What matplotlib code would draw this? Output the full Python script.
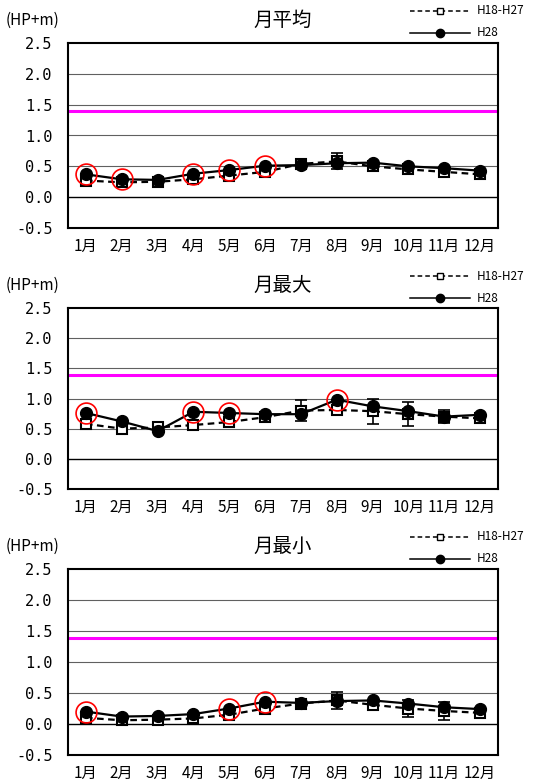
import numpy as np
import matplotlib
matplotlib.use("Agg")
import matplotlib.pyplot as plt
from matplotlib.lines import Line2D

plt.rcParams["font.family"] = ["Noto Sans CJK JP", "DejaVu Sans"]

months = ["1月", "2月", "3月", "4月", "5月", "6月", "7月", "8月", "9月", "10月", "11月", "12月"]
titles = ["月平均", "月最大", "月最小"]
yticks = [-0.5, 0.0, 0.5, 1.0, 1.5, 2.0, 2.5]
ref_level = 1.39
legend_labels = ["H18-H27", "H28"]

# H28 values
h28_mean = [0.37, 0.29, 0.28, 0.38, 0.44, 0.51, 0.52, 0.55, 0.56, 0.50, 0.47, 0.43]
h28_max = [0.76, 0.62, 0.46, 0.78, 0.76, 0.74, 0.74, 0.98, 0.87, 0.79, 0.70, 0.73]
h28_min = [0.20, 0.12, 0.13, 0.16, 0.25, 0.36, 0.34, 0.37, 0.38, 0.33, 0.27, 0.24]

# H18-H27 averages and spread
avg_mean = [0.27, 0.24, 0.25, 0.29, 0.35, 0.41, 0.54, 0.58, 0.50, 0.45, 0.41, 0.37]
avg_max = [0.58, 0.50, 0.52, 0.56, 0.61, 0.69, 0.80, 0.81, 0.79, 0.74, 0.70, 0.67]
avg_min = [0.10, 0.06, 0.07, 0.09, 0.15, 0.25, 0.33, 0.38, 0.31, 0.25, 0.21, 0.18]

err_mean = [0.03, 0.03, 0.03, 0.03, 0.03, 0.03, 0.04, 0.13, 0.06, 0.07, 0.07, 0.04]
err_max = [0.04, 0.04, 0.04, 0.04, 0.04, 0.04, 0.17, 0.06, 0.21, 0.20, 0.11, 0.05]
err_min = [0.03, 0.03, 0.03, 0.03, 0.03, 0.03, 0.04, 0.14, 0.07, 0.13, 0.14, 0.05]

# months circled in red (index)
circled_mean = [0, 1, 3, 4, 5]
circled_max = [0, 3, 4, 7]
circled_min = [0, 4, 5]

panels = [
    (titles[0], h28_mean, avg_mean, err_mean, circled_mean),
    (titles[1], h28_max, avg_max, err_max, circled_max),
    (titles[2], h28_min, avg_min, err_min, circled_min),
]

W, H = 552, 783
fig = plt.figure(figsize=(W / 100, H / 100), dpi=100)

# axes boxes in pixels: (top, bottom)
boxes = [(43, 228), (308, 489), (569, 755)]
left_px, right_px = 68, 498


def fx(px):
    return px / W


def fy(py):
    return 1 - py / H


x = np.arange(len(months))

for (title, h28, avg, err, circ), (top, bot) in zip(panels, boxes):
    ax = fig.add_axes([fx(left_px), fy(bot), (right_px - left_px) / W, (bot - top) / H])
    ax.set_xlim(-0.5, 11.5)
    ax.set_ylim(-0.5, 2.5)

    for yv in [0.5, 1.0, 1.5, 2.0]:
        ax.axhline(yv, color="#606060", lw=0.8, zorder=1)
    ax.axhline(0.0, color="black", lw=1.0, zorder=1)
    ax.axhline(ref_level, color="#FF00FF", lw=2.2, zorder=2)

    ax.errorbar(x, avg, yerr=err, fmt="none", ecolor="black", elinewidth=1.2,
                capsize=4, capthick=1.2, zorder=3)
    ax.plot(x, avg, color="black", ls=(0, (3, 2)), lw=1.6, marker="s", ms=7,
            mfc="white", mec="black", mew=1.5, zorder=4)
    ax.plot(x, h28, color="black", ls="-", lw=1.6, marker="o", ms=8.5,
            mfc="black", mec="black", zorder=5)
    ax.plot(x[circ], np.array(h28)[circ], ls="none", marker="o", ms=15,
            mfc="none", mec="#FF0000", mew=1.2, zorder=6)

    ax.set_xticks(x)
    ax.set_xticklabels(months, fontsize=11)
    ax.set_yticks(yticks)
    ax.set_yticklabels([f"{v:.1f}" for v in yticks], fontsize=11,
                       family=["DejaVu Sans Mono"])
    ax.tick_params(axis="x", length=0, pad=7)
    ax.tick_params(axis="y", length=0, pad=11)
    for s in ax.spines.values():
        s.set_linewidth(1.5)
        s.set_color("black")

    # title and unit
    fig.text(fx((left_px + right_px) / 2), fy(top - 23), title, fontsize=14,
             ha="center", va="center")
    fig.text(fx(6), fy(top - 23), "(HP+m)", fontsize=11, va="center", ha="left")

    # legend drawn by hand in the top right corner
    row1, row2 = top - 32, top - 10
    fig.add_artist(Line2D([fx(410), fx(470)], [fy(row1), fy(row1)], transform=fig.transFigure,
                          color="black", ls=(0, (3, 2)), lw=1.1))
    fig.add_artist(Line2D([fx(440)], [fy(row1)], transform=fig.transFigure, ls="none",
                          marker="s", ms=5, mfc="white", mec="black", mew=1.0))
    fig.add_artist(Line2D([fx(410), fx(470)], [fy(row2), fy(row2)], transform=fig.transFigure,
                          color="black", ls="-", lw=1.1))
    fig.add_artist(Line2D([fx(440)], [fy(row2)], transform=fig.transFigure, ls="none",
                          marker="o", ms=6, mfc="black", mec="black"))
    fig.text(fx(477), fy(row1), legend_labels[0], fontsize=8.5, ha="left", va="center")
    fig.text(fx(477), fy(row2), legend_labels[1], fontsize=8.5, ha="left", va="center")

fig.savefig("out.png", dpi=100)
